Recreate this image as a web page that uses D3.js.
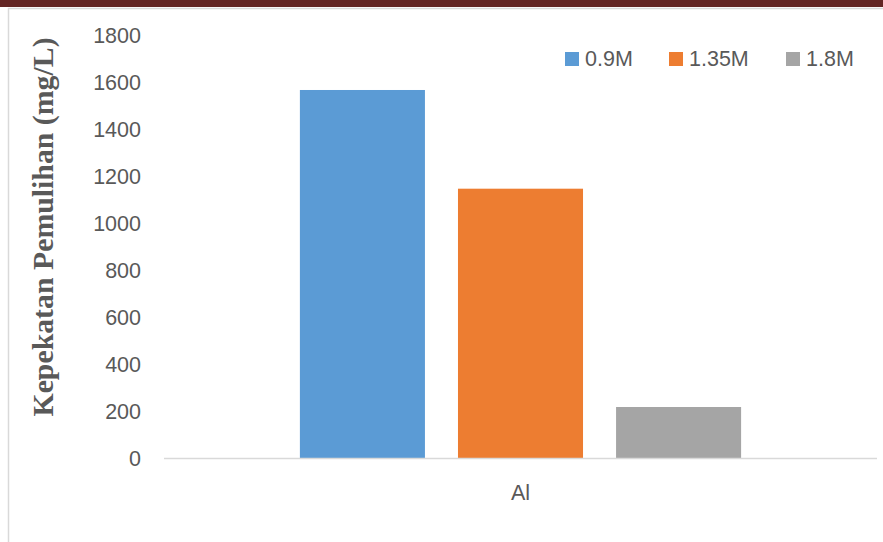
<!DOCTYPE html>
<html>
<head>
<meta charset="utf-8">
<script src="https://cdn.jsdelivr.net/npm/d3@7"></script>
<style>
  body { margin: 0; background: #fff; }
  svg { display: block; }
</style>
</head>
<body>
<script>
// data
var categories = ["Al"];
var series = ["0.9M", "1.35M", "1.8M"];
var values = [1566, 1146, 217];
var colors = ["#5b9bd5", "#ed7d31", "#a5a5a5"];
var yTicks = [0, 200, 400, 600, 800, 1000, 1200, 1400, 1600, 1800];

var W = 883, H = 542;
var margin = { top: 35, right: 6, bottom: 84, left: 164 },
  width = W - margin.left - margin.right,
  height = H - margin.top - margin.bottom;

var svg = d3.select("body").append("svg")
  .attr("width", W)
  .attr("height", H);

// frame: dark top strip + thin grey borders
svg.append("rect").attr("x", 0).attr("y", 0).attr("width", W).attr("height", 7).attr("fill", "#632523");
svg.append("line").attr("x1", 8).attr("x2", W).attr("y1", 8.5).attr("y2", 8.5).attr("stroke", "#d9d9d9").attr("stroke-width", 1.5);
svg.append("line").attr("x1", 8.5).attr("x2", 8.5).attr("y1", 8).attr("y2", H).attr("stroke", "#d9d9d9").attr("stroke-width", 1.5);

var g = svg.append("g")
  .attr("transform", "translate(" + margin.left + "," + margin.top + ")");

var y = d3.scaleLinear().domain([0, 1800]).range([height, 0]);

var x0 = d3.scaleBand().domain(categories).range([0, width]).paddingInner(0).paddingOuter(0.308);
var x1 = d3.scaleBand().domain(series).range([0, x0.bandwidth()]).paddingInner(0.209);

// y tick labels (no axis line)
g.selectAll(".ytick")
  .data(yTicks)
  .enter().append("text")
  .attr("x", -23)
  .attr("y", function (d) { return y(d); })
  .attr("dy", "0.35em")
  .attr("text-anchor", "end")
  .attr("font-family", "Liberation Sans, Arial, sans-serif")
  .attr("font-size", 21.5)
  .attr("fill", "#595959")
  .text(function (d) { return d; });

// bars
g.selectAll(".bar")
  .data(series.map(function (s, i) { return { cat: categories[0], s: s, v: values[i], c: colors[i] }; }))
  .enter().append("rect")
  .attr("x", function (d) { return x0(d.cat) + x1(d.s); })
  .attr("y", function (d) { return y(d.v); })
  .attr("width", x1.bandwidth())
  .attr("height", function (d) { return height - y(d.v); })
  .attr("fill", function (d) { return d.c; });

// baseline
g.append("line")
  .attr("x1", 0).attr("x2", width)
  .attr("y1", height + 0.5).attr("y2", height + 0.5)
  .attr("stroke", "#d9d9d9").attr("stroke-width", 1.5);

// category label
g.selectAll(".xlab")
  .data(categories)
  .enter().append("text")
  .attr("x", function (d) { return x0(d) + x0.bandwidth() / 2; })
  .attr("y", height + 42)
  .attr("text-anchor", "middle")
  .attr("font-family", "Liberation Sans, Arial, sans-serif")
  .attr("font-size", 21.5)
  .attr("fill", "#595959")
  .text(function (d) { return d; });

// y axis title
svg.append("text")
  .attr("transform", "translate(53,227) rotate(-90)")
  .attr("text-anchor", "middle")
  .attr("font-family", "Liberation Serif, Times New Roman, serif")
  .attr("font-weight", "bold")
  .attr("font-size", 29.8)
  .attr("fill", "#595959")
  .text("Kepekatan Pemulihan (mg/L)");

// legend
var legendX = [565, 669, 786];
var legend = svg.selectAll(".legend")
  .data(series)
  .enter().append("g")
  .attr("transform", function (d, i) { return "translate(" + legendX[i] + ",52)"; });

legend.append("rect")
  .attr("width", 14).attr("height", 14)
  .attr("fill", function (d, i) { return colors[i]; });

legend.append("text")
  .attr("x", 20)
  .attr("y", 14)
  .attr("font-family", "Liberation Sans, Arial, sans-serif")
  .attr("font-size", 21.5)
  .attr("fill", "#595959")
  .text(function (d) { return d; });
</script>
</body>
</html>
